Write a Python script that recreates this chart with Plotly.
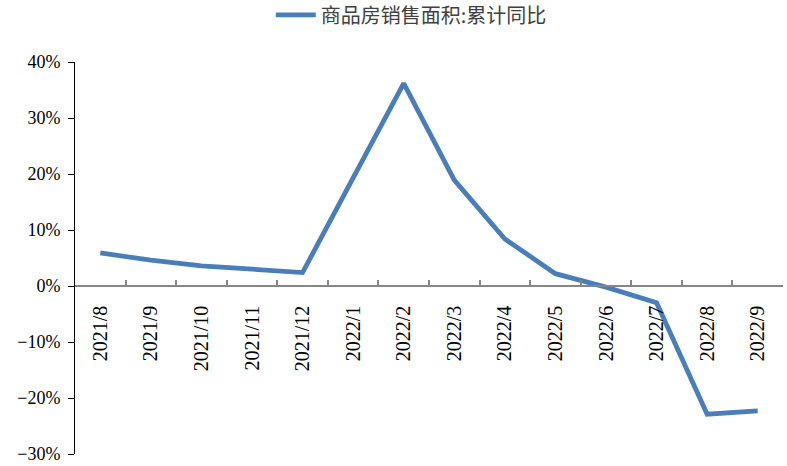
import plotly.graph_objects as go

# 商品房销售面积累计同比（%）
months = ["2021/8", "2021/9", "2021/10", "2021/11", "2021/12", "2022/1", "2022/2",
          "2022/3", "2022/4", "2022/5", "2022/6", "2022/7", "2022/8", "2022/9"]
yoy = [5.9, 4.6, 3.6, 3.0, 2.4, 19.3, 36.2, 18.9, 8.4, 2.2, -0.2, -3.0, -22.9, -22.3]
series_name = "商品房销售面积:累计同比"

y_min, y_max = -30, 40
y_ticks = [-30, -20, -10, 0, 10, 20, 30, 40]
y_labels = [("−" if v < 0 else "") + f"{abs(v)}%" for v in y_ticks]

fig = go.Figure()
fig.add_trace(go.Scatter(
    x=months, y=yoy, name=series_name, mode="lines",
    line=dict(color="#4A7EBB", width=4.8),
))

fig.update_layout(
    width=787, height=466,
    margin=dict(l=75, r=4, t=62, b=12, autoexpand=False),
    paper_bgcolor="white", plot_bgcolor="white",
    showlegend=True,
    legend=dict(
        orientation="h", x=0.475, xanchor="center", y=1.12, yanchor="middle",
        font=dict(family="Noto Sans CJK SC", size=20, color="#404040"),
        itemwidth=40,
    ),
    xaxis=dict(
        type="category", range=[-0.5, len(months) - 0.5],
        anchor="free", position=(0 - y_min) / (y_max - y_min),
        showline=True, linecolor="#868686", linewidth=1.5,
        ticks="inside", ticklen=5, tickcolor="#868686", tickwidth=1.5,
        tickson="boundaries", tickangle=-90, ticklabelstandoff=11,
        tickfont=dict(family="Liberation Serif", size=20, color="#000000"),
        showgrid=False, zeroline=False,
    ),
    yaxis=dict(
        range=[y_min, y_max], tickmode="array", tickvals=y_ticks, ticktext=y_labels,
        showline=True, linecolor="#000000", linewidth=1,
        ticks="outside", ticklen=6, tickcolor="#000000",
        ticklabelstandoff=4,
        tickfont=dict(family="Liberation Serif", size=18, color="#000000"),
        showgrid=False, zeroline=False,
    ),
)

fig.write_html("out.html")
